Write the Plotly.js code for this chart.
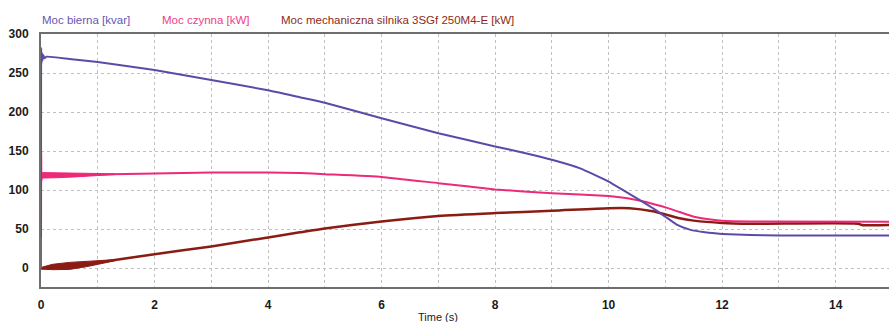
<!DOCTYPE html>
<html>
<head>
<meta charset="utf-8">
<script src="https://cdn.plot.ly/plotly-3.0.1.min.js"></script>
<style>html,body{margin:0;padding:0;background:#fff;}#chart{width:889px;height:322px;}</style>
</head>
<body>
<div id="chart"></div>
<script>
// Series names
const seriesNames = ["Moc bierna [kvar]", "Moc czynna [kW]", "Moc mechaniczna silnika 3SGf 250M4-E [kW]"];

// Moc bierna (reactive power)
const tBierna = [0, 0.003, 0.008, 0.015, 0.025, 0.04, 0.06, 0.1, 0.5, 1, 2, 3, 4, 4.56, 5, 6, 7, 8, 8.5, 9, 9.5, 10, 10.3, 10.58, 10.8, 11, 11.2, 11.43, 11.7, 12, 12.5, 13, 14, 15];
const vBierna = [40, 282, 262, 276, 266, 273, 269, 271, 268, 264, 254, 241, 228, 219, 212, 192, 173, 156, 148, 139, 128, 111, 98, 86, 76, 66, 56, 49.5, 46, 44, 42.5, 42, 41.8, 41.8];

// Moc czynna (active power)
const tCzynna = [0, 0.003, 0.008, 0.02, 0.05, 0.5, 1, 2, 3, 4, 4.56, 5, 6, 7, 8, 9, 10, 10.3, 10.58, 10.8, 11, 11.25, 11.5, 11.8, 12, 12.5, 15];
const vCzynna = [0, 150, 112, 119, 118, 119, 120, 121.5, 122.5, 122.5, 122, 120.5, 117, 109, 101, 96, 92.5, 90, 86, 82, 78, 72, 66, 62.5, 61, 60, 59.6];
// start-up ripple envelope of Moc czynna
const tCzynnaBand = [0.02, 0.3, 0.6, 1.0, 1.3];
const upCzynnaBand = [122.5, 122, 121.8, 121.5, 121];
const loCzynnaBand = [115.5, 116, 117, 118.5, 120];

// Moc mechaniczna
const tMech = [0, 0.5, 1, 2, 3, 4, 4.56, 5, 6, 7, 8, 9, 10, 10.37, 10.78, 11, 11.25, 11.5, 12, 12.5, 14.4, 14.46, 15];
const vMech = [0, 3, 7.5, 18, 28, 39.5, 46, 51, 60, 67, 70.7, 73.6, 77, 77, 73, 69, 64, 61, 58, 57, 57, 55.4, 55.4];
// start-up ripple envelope of Moc mechaniczna
const tMechBand = [0, 0.2, 0.5, 0.8, 1.0, 1.3];
const upMechBand = [1, 5, 7.5, 9, 10, 11];
const loMechBand = [-1, -1.8, -1.5, 2, 4.6, 9.5];

const colors = ["#5b4aa8", "#ec2a78", "#8b1c14"];
const legendColors = ["#6655b5", "#ee3d88", "#8e2a20"];

function band(t, up, lo, color) {
  return {
    x: t.concat(t.slice().reverse()),
    y: up.concat(lo.slice().reverse()),
    type: "scatter", mode: "lines", fill: "toself",
    fillcolor: color, line: {color: color, width: 1},
    hoverinfo: "skip", showlegend: false
  };
}

const traces = [
  band(tMechBand, upMechBand, loMechBand, colors[2]),
  {x: tMech, y: vMech, type: "scatter", mode: "lines", line: {color: colors[2], width: 2.5, shape: "spline", smoothing: 0.6}, showlegend: false, name: seriesNames[2]},
  band(tCzynnaBand, upCzynnaBand, loCzynnaBand, colors[1]),
  {x: tCzynna, y: vCzynna, type: "scatter", mode: "lines", line: {color: colors[1], width: 2, shape: "spline", smoothing: 0.4}, showlegend: false, name: seriesNames[1]},
  {x: tBierna, y: vBierna, type: "scatter", mode: "lines", line: {color: colors[0], width: 2, shape: "spline", smoothing: 0.4}, showlegend: false, name: seriesNames[0]}
];

const tickFont = {family: "Liberation Sans, Arial, sans-serif", size: 12, color: "#1a1a1a", weight: "bold"};

const layout = {
  width: 889, height: 322,
  margin: {l: 41, r: 0, t: 34, b: 35, pad: 0},
  paper_bgcolor: "#fff", plot_bgcolor: "#fff",
  showlegend: false,
  xaxis: {
    range: [0, 14.94], dtick: 2, tick0: 0,
    showgrid: true, gridcolor: "#c0c0c0", griddash: "dot", gridwidth: 1,
    minor: {dtick: 1, showgrid: true, gridcolor: "#c0c0c0", griddash: "dot", gridwidth: 1},
    showline: true, linecolor: "#6e6e6e", linewidth: 2, mirror: true,
    ticks: "", ticklabelstandoff: 6, tickfont: tickFont,
    zeroline: false
  },
  yaxis: {
    range: [-24, 300], dtick: 50, tick0: 0,
    showgrid: true, gridcolor: "#c0c0c0", griddash: "dot", gridwidth: 1,
    showline: true, linecolor: "#6e6e6e", linewidth: 2,
    ticks: "", ticklabelstandoff: 8, tickfont: tickFont,
    zeroline: false
  },
  annotations: [
    {text: seriesNames[0], xref: "paper", yref: "paper", x: 0, y: 1, xanchor: "left", yanchor: "bottom", yshift: 6, xshift: -1, showarrow: false, font: {family: "Liberation Sans, Arial, sans-serif", size: 11.5, color: legendColors[0]}},
    {text: seriesNames[1], xref: "paper", yref: "paper", x: (160 - 41) / 848, y: 1, xanchor: "left", yanchor: "bottom", yshift: 6, showarrow: false, font: {family: "Liberation Sans, Arial, sans-serif", size: 11.5, color: legendColors[1]}},
    {text: seriesNames[2], xref: "paper", yref: "paper", x: (279 - 41) / 848, y: 1, xanchor: "left", yanchor: "bottom", yshift: 6, showarrow: false, font: {family: "Liberation Sans, Arial, sans-serif", size: 11.5, color: legendColors[2]}},
    {text: "Time (s)", xref: "x", yref: "paper", x: 7.0, y: 0, xanchor: "center", yanchor: "top", yshift: -22, showarrow: false, font: {family: "Liberation Sans, Arial, sans-serif", size: 11, color: "#1a1a1a"}}
  ]
};

Plotly.newPlot("chart", traces, layout, {staticPlot: true, displayModeBar: false});
</script>
</body>
</html>
